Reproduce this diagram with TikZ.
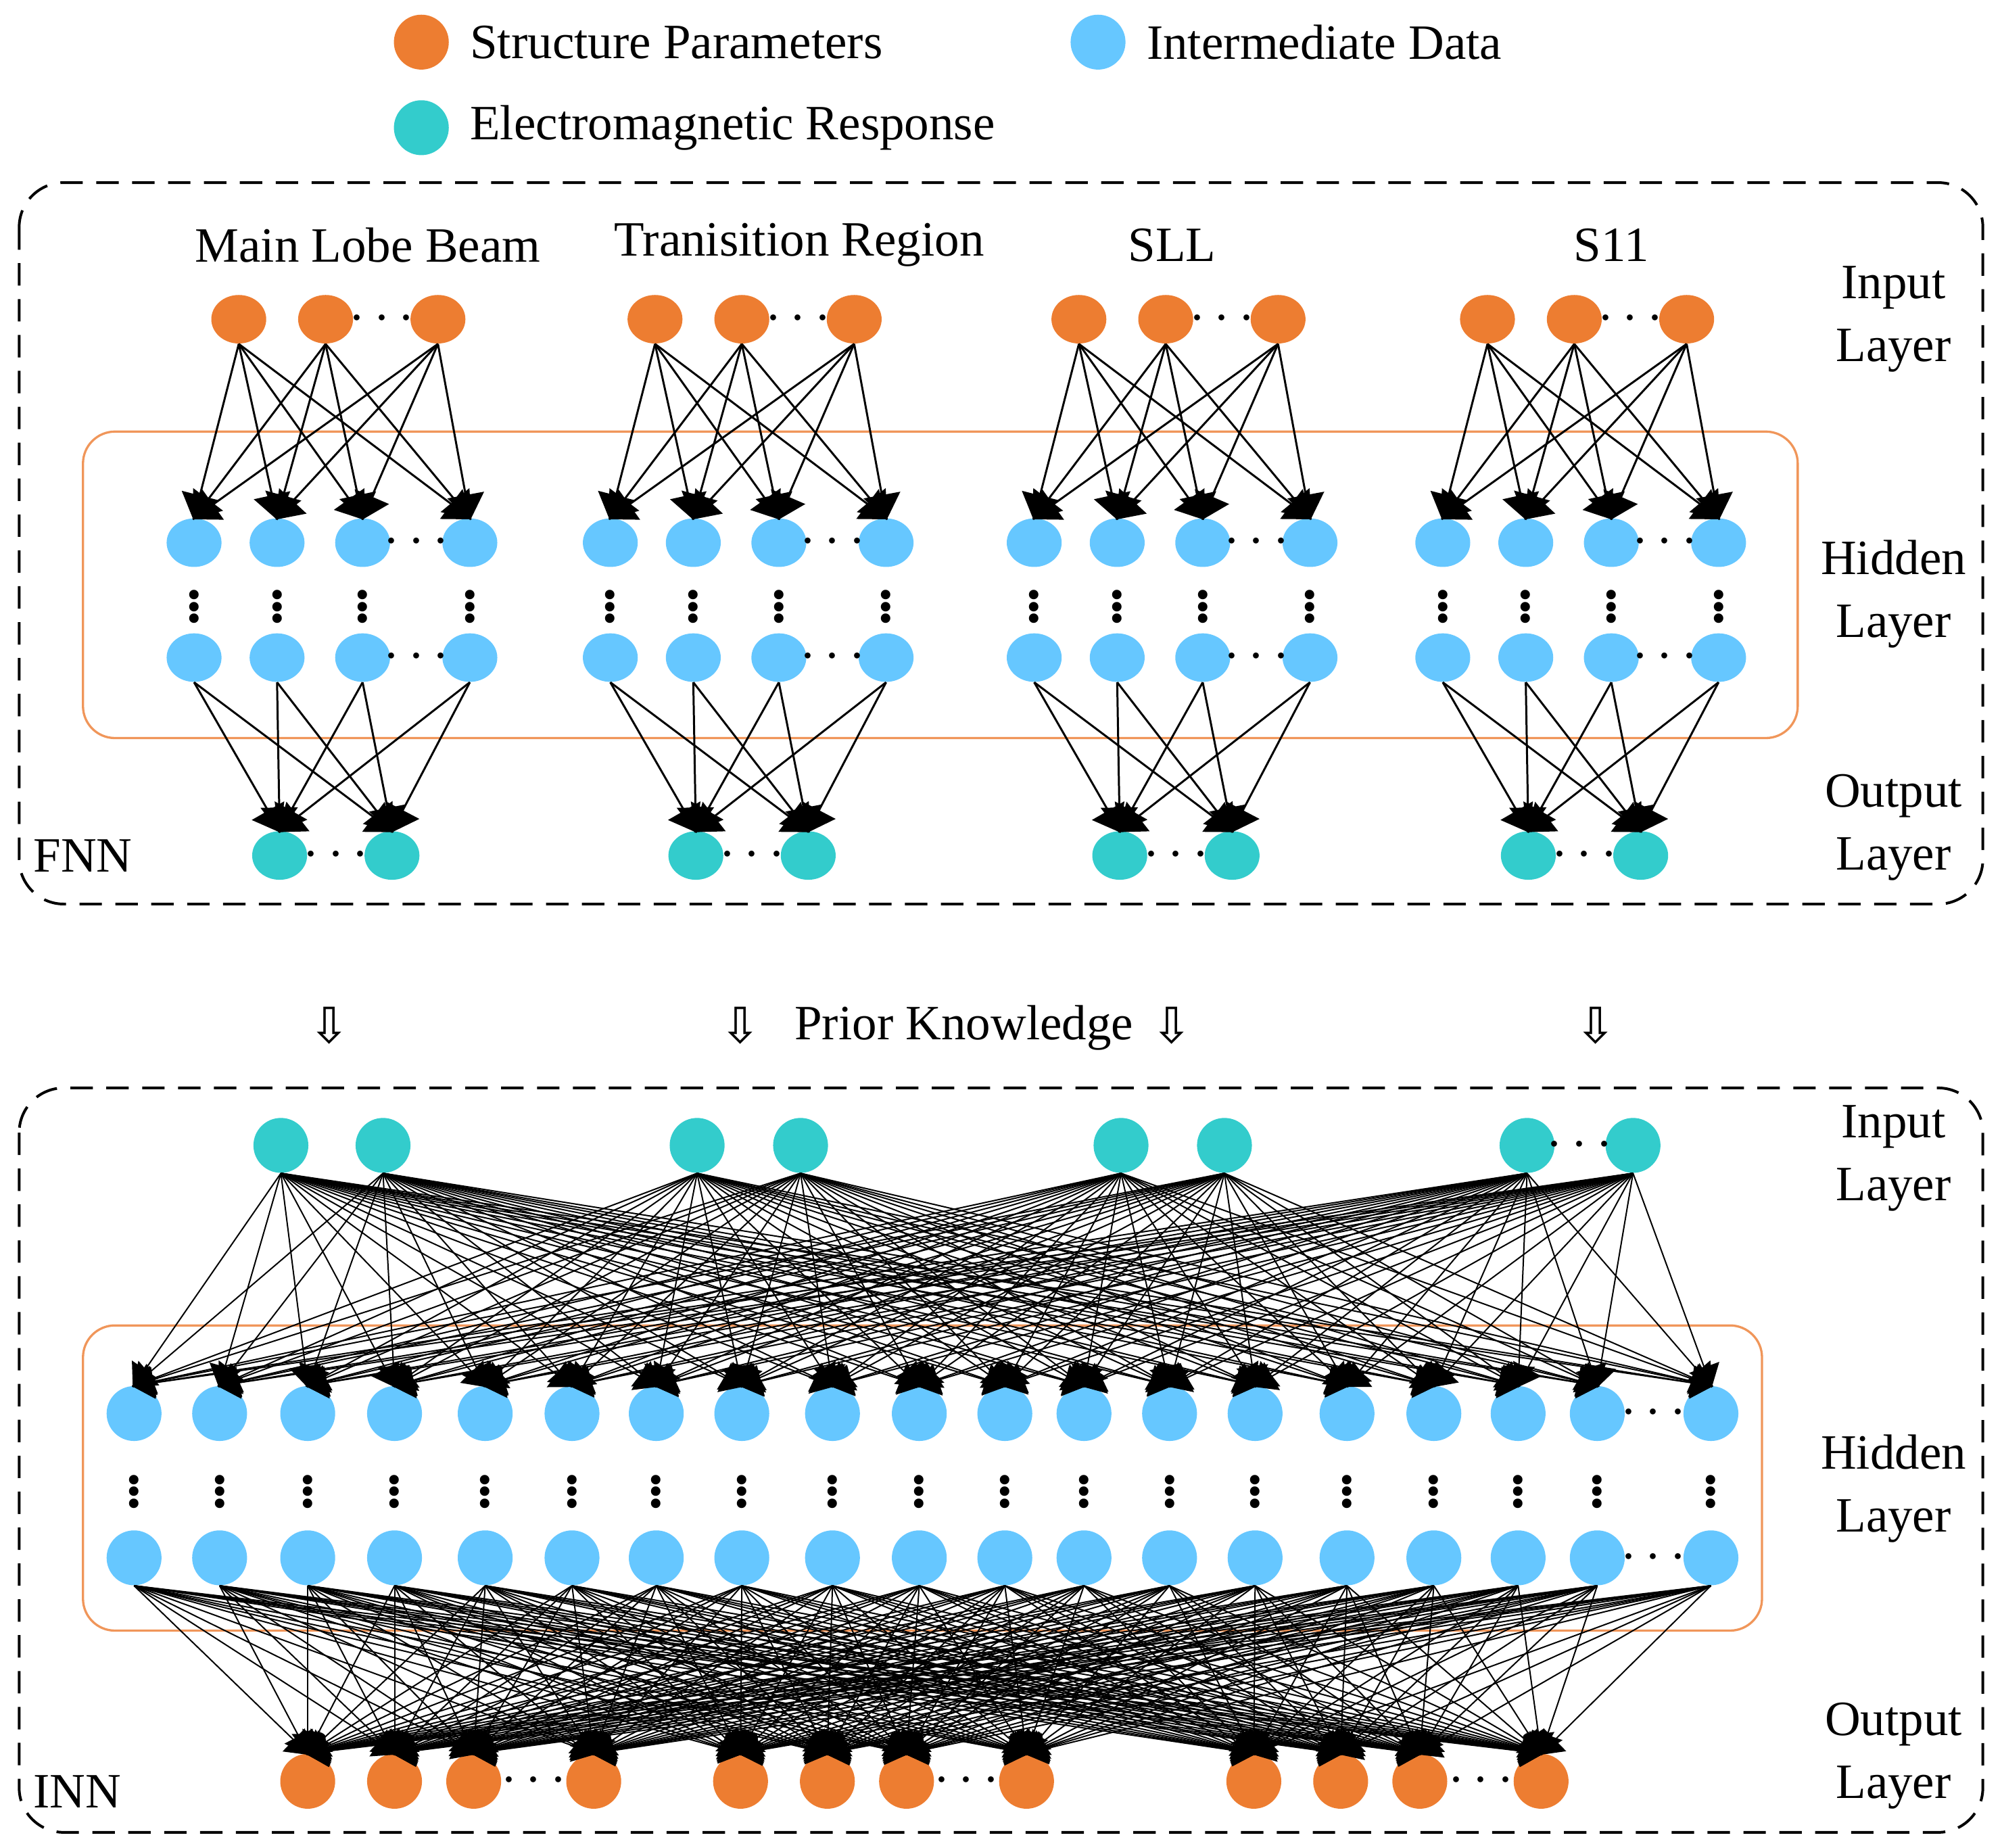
\documentclass[tikz,border=0pt]{standalone}
\usepackage{fontspec}
\setmainfont{Liberation Serif}
\newfontfamily\dvfont{DejaVu Sans}
\usetikzlibrary{arrows.meta, positioning, shapes.geometric}
\definecolor{strc}{RGB}{237,125,49}
\definecolor{midc}{RGB}{102,199,255}
\definecolor{emrc}{RGB}{51,204,204}
\definecolor{boxc}{RGB}{240,150,90}
\tikzset{
    % node styles
    strp/.style={ellipse, fill=strc, minimum width=0.86cm, minimum height=0.76cm, inner sep=0pt},
    midp/.style={strp, fill=midc},
    emrp/.style={strp, fill=emrc},
    strq/.style={circle, fill=strc, minimum size=0.86cm, inner sep=0pt},
    midq/.style={strq, fill=midc},
    emrq/.style={strq, fill=emrc},
    % dots
    hd/.style={inner sep=0pt, font=\fontsize{26}{26}\selectfont\bfseries},
    % labels
    lab/.style={font=\fontsize{22}{28}\selectfont, align=center},
    % arrow styles
    pil/.style={-{Triangle[length=0.4cm,width=0.58cm]}, line width=0.9pt, shorten >=-1pt},
    pil2/.style={-{Triangle[length=0.34cm,width=0.5cm]}, line width=0.6pt, shorten >=-1pt},
    frame/.style={draw, dashed, dash pattern=on 10pt off 6pt, line width=1.2pt, rounded corners=0.7cm},
    obox/.style={draw=boxc, line width=1pt, rounded corners=0.5cm}
}
\begin{document}
\begin{tikzpicture}[x=0.02cm, y=-0.02cm]
\useasboundingbox (0,0) rectangle (1568,1447);

% Legend
\node[strq] (lg1) at (330,33) {};
\node[lab, anchor=west] (lt1) at (362,33) {Structure Parameters};
\node[midq] (lg2) at (860,33) {};
\node[lab, anchor=west] (lt2) at (892,33) {Intermediate Data};
\node[emrq] (lg3) at (330,100) {};
\node[lab, anchor=west] (lt3) at (362,100) {Electromagnetic Response};

% FNN frame
\draw[frame] (15,143) rectangle (1553,708);
\draw[obox] (65,338) rectangle (1408,578);
\node[lab, anchor=west] (fnn) at (20,670) {FNN};
\node[lab] (fin) at (1483,250) {Input\\Layer};
\node[lab] (fhid) at (1483,465) {Hidden\\Layer};
\node[lab] (fout) at (1483,648) {Output\\Layer};
\node[lab] (g1) at (288,192) {Main Lobe Beam};
\node[lab] (g2) at (626,192) {Tranisition Region};
\node[lab] (g3) at (918,192) {SLL};
\node[lab] (g4) at (1262,192) {S11};

\foreach \g/\b in {1/152,2/478,3/810,4/1130}{
  \foreach \o [count=\k] in {35,103,191}
    \node[strp] (fi\g-\k) at ({\b+\o},250) {};
  \foreach \o [count=\k] in {0,65,132,216}{
    \node[midp] (fh\g-\k) at ({\b+\o},425) {};
    \node[midp] (fb\g-\k) at ({\b+\o},515) {};
    \node[hd] (fv\g-\k) at ({\b+\o},470) {$\vdots$};
  }
  \foreach \o [count=\k] in {67,155}
    \node[emrp] (fo\g-\k) at ({\b+\o},670) {};
  \node[hd] (fd\g-1) at ({\b+147},250) {$\cdots$};
  \node[hd] (fd\g-2) at ({\b+174},425) {$\cdots$};
  \node[hd] (fd\g-3) at ({\b+174},515) {$\cdots$};
  \node[hd] (fd\g-4) at ({\b+111},670) {$\cdots$};
  \foreach \i in {1,2,3}
    \foreach \j in {1,...,4}
      \draw[pil] (fi\g-\i.south) -- (fh\g-\j.north);
  \foreach \i in {1,...,4}
    \foreach \j in {1,2}
      \draw[pil] (fb\g-\i.south) -- (fo\g-\j.north);
}

% Prior knowledge
\node[lab, font=\dvfont\fontsize{22}{28}\selectfont] (pk1) at (258,803) {⇩};
\node[lab, font=\dvfont\fontsize{22}{28}\selectfont] (pk2) at (580,803) {⇩};
\node[lab, font=\dvfont\fontsize{22}{28}\selectfont] (pk3) at (918,803) {⇩};
\node[lab, font=\dvfont\fontsize{22}{28}\selectfont] (pk4) at (1250,803) {⇩};
\node[lab] (pkt) at (755,805) {Prior Knowledge};

% INN frame
\draw[frame] (15,852) rectangle (1553,1435);
\draw[obox] (65,1038) rectangle (1380,1277);
\node[lab, anchor=west] (inn) at (20,1403) {INN};
\node[lab] (iin) at (1483,907) {Input\\Layer};
\node[lab] (ihid) at (1483,1166) {Hidden\\Layer};
\node[lab] (iout) at (1483,1375) {Output\\Layer};

\foreach \x [count=\k] in {220,300,546,627,878,959,1196,1279}
  \node[emrq] (ii\k) at (\x,897) {};
\node[hd] (idi) at (1237,897) {$\cdots$};
\foreach \x [count=\k] in {105,172,241,309,380,448,514,581,652,720,787,849,916,983,1055,1123,1189,1251,1340}{
  \node[midq] (ih\k) at (\x,1107) {};
  \node[midq] (ib\k) at (\x,1220) {};
  \node[hd] (iv\k) at (\x,1163) {$\vdots$};
}
\node[hd] (idh1) at (1295,1107) {$\cdots$};
\node[hd] (idh2) at (1295,1220) {$\cdots$};
\foreach \x [count=\k] in {241,309,371,465,580,648,710,804,982,1050,1112,1207}
  \node[strq] (io\k) at (\x,1395) {};
\node[hd] (ido1) at (418,1395) {$\cdots$};
\node[hd] (ido2) at (757,1395) {$\cdots$};
\node[hd] (ido3) at (1160,1395) {$\cdots$};

\foreach \a in {1,...,8}
  \foreach \b in {1,...,19}
    \draw[pil2] (ii\a.south) -- (ih\b.north);
\foreach \a in {1,...,19}
  \foreach \b in {1,...,12}
    \draw[pil2] (ib\a.south) -- (io\b.north);
\end{tikzpicture}
\end{document}
